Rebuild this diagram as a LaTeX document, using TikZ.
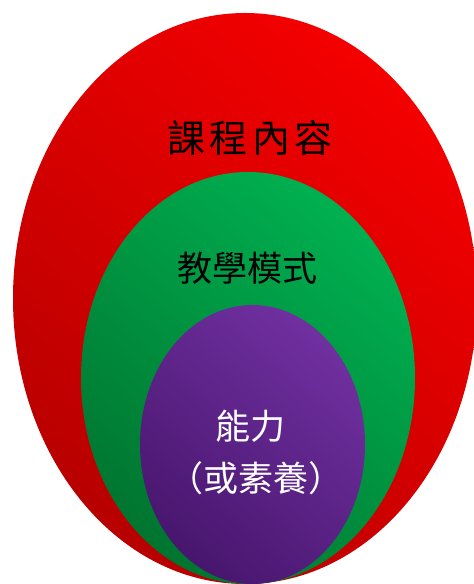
\documentclass[tikz,border=0pt]{standalone}
\usepackage{fontspec}
\newfontfamily\cjk{Noto Sans CJK TC}
\newfontfamily\cjkwide[LetterSpace=12]{Noto Sans CJK TC}
\definecolor{redlt}{HTML}{F40000}
\definecolor{reddk}{HTML}{B80000}
\definecolor{grnlt}{HTML}{00B050}
\definecolor{grndk}{HTML}{007530}
\definecolor{purlt}{HTML}{7030A0}
\definecolor{purdk}{HTML}{48166E}
\tikzset{
  lbl/.style={font=\cjk\fontsize{35}{40}\selectfont, inner sep=0pt},
}
\begin{document}
\begin{tikzpicture}[x=1pt,y=1pt]
\useasboundingbox (0,0) rectangle (474,584);
\clip (0,0) rectangle (474,584);
\shade[top color=redlt, bottom color=reddk, shading angle=-40] (245,285.5) ellipse [x radius=232, y radius=285.5];
\shade[top color=grnlt, bottom color=grndk, shading angle=-40] (248,206) ellipse [x radius=167, y radius=206];
\shade[top color=purlt, bottom color=purdk, shading angle=-40] (252.5,139.5) ellipse [x radius=112.5, y radius=139.5];
\node[lbl, text=black, font=\cjkwide\fontsize{38}{42}\selectfont] (t1) at (250,446) {課程內容};
\node[lbl, text=black] (t2) at (247,316) {教學模式};
\node[lbl, text=white] (t3) at (250,158) {能力};
\node[lbl, text=white] (t4) at (256,106) {（或素養）};
\end{tikzpicture}
\end{document}
